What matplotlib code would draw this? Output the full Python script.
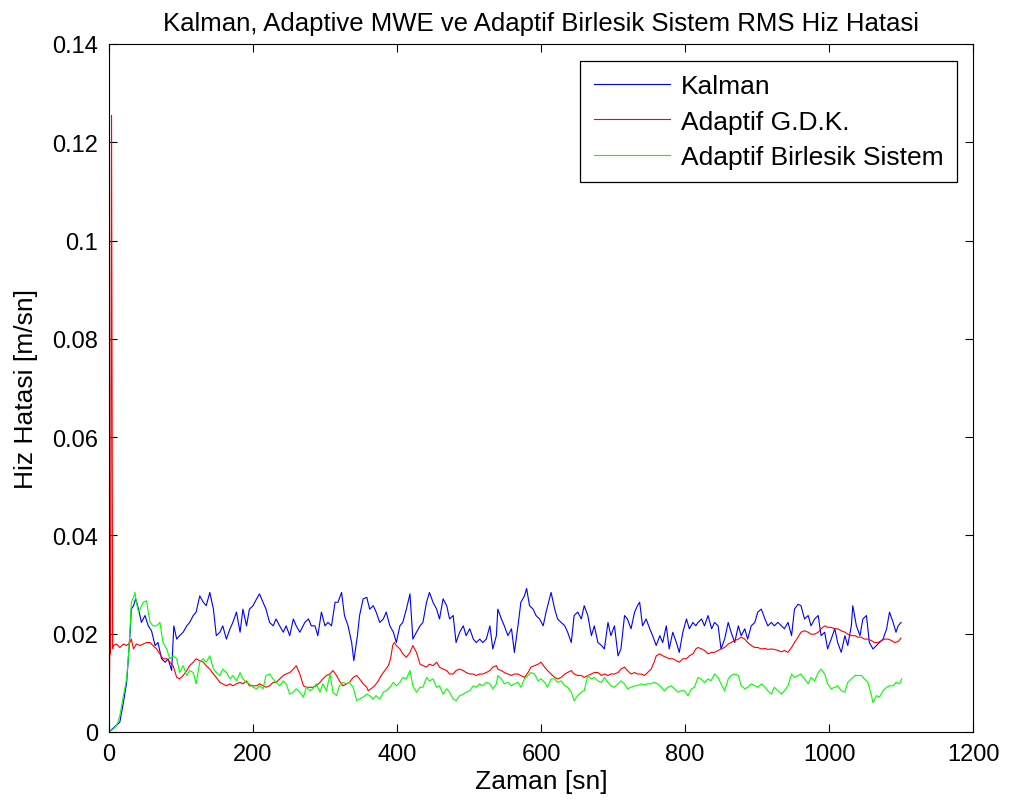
import matplotlib
matplotlib.use("Agg")
import matplotlib.pyplot as plt
from matplotlib.ticker import FuncFormatter

plt.rcParams['font.family'] = ['Liberation Sans', 'DejaVu Sans']

# hiz hatalari, mm/sn cinsinden okundu (grafikten)
t_kalman = [0, 15, 20, 24.5, 29, 31, 34, 37, 41, 45, 50, 54.5, 59, 64, 68, 73, 78, 82, 87, 90,
            94, 98, 103, 108, 112, 117, 121, 126, 131, 135, 140, 145, 149, 154, 158, 163, 168, 172,
            177, 182, 186, 191, 195, 200, 205, 209, 214, 218, 223, 228, 232, 237, 242, 246, 251, 256,
            260, 265, 272, 277, 281, 286, 290, 295, 300, 304, 309, 314, 318, 323, 327, 332, 337, 340,
            345, 348, 353, 358, 362, 367, 371, 376, 381, 385, 390, 395, 399, 404, 408, 413, 418, 422,
            427, 432, 436, 441, 445, 450, 455, 459, 464, 469, 473, 478, 482, 487, 492, 496, 501, 506,
            510, 515, 519, 524, 529, 533, 538, 540, 545, 549, 554, 559, 563, 568, 572, 577, 580, 584,
            589, 593, 598, 603, 607, 614, 619, 623, 628, 633, 637, 642, 646, 651, 656, 660, 665, 670,
            674, 679, 684, 688, 693, 697, 702, 707, 711, 716, 720, 725, 730, 734, 737, 741, 746, 751,
            755, 760, 765, 769, 774, 778, 783, 788, 792, 797, 802, 806, 811, 815, 818, 823, 827, 832,
            837, 841, 846, 850, 855, 860, 864, 869, 874, 878, 883, 887, 892, 897, 901, 906, 911, 915,
            920, 924, 929, 934, 938, 943, 948, 952, 957, 961, 966, 971, 975, 980, 985, 989, 994, 998,
            1003, 1008, 1012, 1017, 1022, 1026, 1031, 1033, 1038, 1043, 1047, 1052, 1056, 1061, 1066,
            1070, 1075, 1080, 1084, 1089, 1093, 1096, 1100]
kalman = [0, 2.0, 6.0, 10.1, 19.6, 25.0, 25.7, 27.1, 25.0, 22.3, 23.7, 21.6, 20.6, 17.6, 18.2, 14.9,
          14.2, 14.9, 12.5, 21.6, 18.9, 19.6, 20.3, 21.6, 22.3, 23.7, 24.4, 27.7, 26.4, 25.7, 28.4,
          25.0, 19.6, 20.3, 21.6, 18.9, 21.0, 22.3, 24.4, 20.3, 25.0, 21.6, 25.0, 25.7, 27.1, 28.1,
          26.4, 25.0, 22.3, 21.6, 23.0, 21.6, 20.3, 21.6, 19.6, 23.0, 21.6, 20.3, 22.3, 23.0, 21.6,
          21.6, 19.6, 24.4, 21.6, 22.3, 21.6, 26.4, 26.4, 28.4, 23.7, 21.6, 18.2, 14.5, 19.6, 23.7,
          27.1, 27.4, 25.0, 25.7, 24.4, 22.3, 23.0, 24.4, 21.6, 20.3, 18.2, 21.6, 22.3, 25.0, 28.1,
          18.9, 20.3, 21.6, 22.3, 26.4, 28.4, 26.4, 25.0, 23.0, 27.1, 25.7, 23.0, 23.7, 18.2, 20.3,
          21.6, 19.6, 21.0, 18.9, 18.2, 18.9, 18.2, 18.9, 21.6, 16.9, 19.6, 25.0, 23.0, 21.6, 19.6,
          21.0, 16.2, 21.6, 26.4, 27.7, 29.2, 25.7, 25.0, 23.7, 23.0, 21.6, 24.4, 28.4, 25.0, 23.0,
          22.3, 21.6, 20.3, 18.2, 23.7, 24.4, 23.0, 25.7, 23.7, 19.6, 21.6, 18.2, 17.6, 16.9, 22.3,
          19.6, 21.6, 15.5, 16.9, 23.7, 23.0, 21.0, 24.4, 25.7, 26.4, 21.6, 23.0, 21.0, 19.6, 17.6,
          19.6, 18.2, 21.6, 16.9, 20.3, 18.2, 16.2, 20.3, 23.0, 21.0, 22.3, 21.6, 22.3, 23.0, 21.6,
          23.7, 21.0, 22.3, 21.6, 16.9, 18.9, 22.3, 20.3, 18.2, 21.6, 19.6, 21.0, 18.9, 21.6, 22.3,
          24.4, 25.0, 23.0, 21.6, 22.3, 21.6, 22.3, 21.6, 21.0, 22.3, 19.6, 25.0, 26.0, 25.7, 23.0,
          23.7, 21.6, 23.0, 23.7, 19.6, 20.3, 16.9, 18.9, 21.0, 18.2, 16.2, 19.6, 17.6, 21.6, 25.7,
          21.6, 19.6, 23.0, 23.7, 18.2, 16.9, 17.6, 18.2, 18.9, 21.0, 24.4, 22.3, 20.3, 21.6, 22.3]

t_gdk = [0, 1, 2, 3.5, 5, 6, 10.6, 15, 20, 24.5, 29, 31, 34, 38, 43, 47.6, 52, 57, 61, 66, 70.6,
         75, 80, 84.5, 89, 94, 98, 103, 108, 112, 117, 121, 126, 131, 135, 140, 145, 149, 154, 158,
         163, 168, 172, 177, 182, 186, 191, 195, 200, 205, 209, 214, 218, 223, 228, 232, 237, 242,
         246, 251, 256, 260, 265, 270, 274, 283, 288, 293, 297, 302, 307, 311, 316, 320, 325, 330,
         334, 339, 344, 348, 353, 358, 360, 364, 369, 374, 378, 383, 388, 391, 394, 396, 399, 404,
         408, 413, 418, 422, 427, 432, 436, 441, 445, 450, 455, 459, 464, 469, 473, 478, 482, 487,
         492, 496, 501, 506, 510, 515, 519, 524, 529, 533, 538, 540, 545, 549, 554, 559, 563, 568,
         572, 577, 582, 586, 591, 596, 600, 605, 609, 614, 619, 623, 628, 633, 637, 642, 646, 651,
         656, 660, 665, 670, 674, 679, 684, 688, 693, 697, 702, 707, 711, 716, 720, 725, 730, 734,
         739, 744, 748, 753, 757, 760, 765, 769, 774, 778, 783, 788, 792, 797, 802, 806, 811, 815,
         818, 823, 827, 832, 837, 841, 846, 850, 855, 860, 864, 869, 874, 878, 883, 887, 892, 897,
         901, 906, 911, 915, 920, 924, 929, 934, 938, 943, 948, 952, 957, 961, 966, 971, 975, 980,
         985, 989, 994, 998, 1003, 1008, 1012, 1017, 1022, 1026, 1031, 1036, 1040, 1045, 1049, 1054,
         1059, 1063, 1068, 1073, 1077, 1082, 1087, 1091, 1096, 1100]
gdk = [0, 15.5, 16.0, 125.5, 17.0, 17.6, 17.9, 17.2, 17.9, 17.6, 18.2, 18.9, 16.9, 17.9, 17.6, 17.9,
       18.2, 18.2, 17.6, 16.9, 15.9, 14.9, 14.9, 14.2, 13.5, 11.1, 10.8, 11.5, 12.5, 13.5, 14.2, 14.9,
       14.5, 14.2, 13.5, 12.8, 11.8, 11.1, 10.1, 9.8, 9.4, 9.8, 9.4, 9.8, 10.1, 9.8, 10.4, 9.4, 9.4,
       9.4, 9.8, 9.4, 9.1, 9.4, 10.1, 10.1, 10.8, 11.5, 11.8, 12.1, 12.8, 13.5, 11.8, 9.4, 9.1, 9.1,
       9.4, 10.1, 10.8, 11.5, 11.8, 12.5, 11.5, 10.4, 9.4, 9.8, 10.1, 11.1, 11.5, 10.8, 9.8, 9.1, 8.4,
       8.8, 9.4, 10.4, 11.5, 12.5, 13.5, 14.9, 17.6, 18.2, 17.6, 16.9, 15.9, 15.2, 16.2, 17.6, 16.2,
       13.8, 13.5, 13.2, 13.8, 13.5, 14.2, 13.2, 12.8, 12.5, 11.8, 11.8, 12.5, 12.8, 12.5, 12.1, 11.8,
       11.8, 11.5, 11.8, 11.8, 12.1, 12.5, 13.2, 13.5, 12.8, 12.5, 12.1, 11.8, 11.5, 11.8, 11.8, 11.5,
       11.1, 12.1, 13.2, 13.5, 13.8, 14.2, 13.2, 12.5, 11.8, 11.1, 10.8, 11.1, 11.8, 12.1, 12.5, 11.8,
       11.5, 11.5, 11.1, 11.5, 11.8, 12.1, 12.1, 11.5, 11.8, 11.5, 11.8, 11.8, 12.1, 12.8, 13.2, 12.5,
       11.8, 12.1, 11.8, 11.8, 11.5, 12.1, 12.8, 14.2, 15.5, 15.9, 15.5, 15.2, 14.9, 14.9, 14.5, 14.2,
       14.9, 14.9, 15.5, 15.9, 16.9, 17.2, 16.9, 16.6, 15.9, 16.2, 16.2, 16.6, 16.9, 17.2, 17.9, 18.2,
       18.6, 18.9, 19.3, 18.9, 18.2, 17.6, 17.2, 17.2, 16.9, 17.0, 16.8, 16.9, 16.8, 16.6, 16.3, 16.6,
       16.2, 17.2, 18.2, 19.3, 20.3, 20.6, 20.3, 19.9, 19.9, 20.3, 21.0, 21.6, 21.3, 21.3, 21.0, 21.0,
       20.6, 20.3, 19.9, 19.6, 19.6, 19.3, 19.3, 18.9, 18.9, 18.6, 18.2, 18.2, 18.6, 18.9, 18.9, 18.6,
       18.2, 18.4, 19.1]

t_birlesik = [0, 6, 10.6, 15, 20, 24.5, 27, 29, 31, 34, 36, 38, 41, 43, 47.6, 52, 57, 61, 66, 70.6,
              75, 80, 84.5, 89, 94, 98, 103, 108, 112, 117, 121, 126, 131, 135, 140, 145, 149, 154,
              158, 163, 168, 172, 177, 182, 186, 191, 195, 200, 205, 209, 214, 218, 223, 228, 232,
              237, 242, 246, 251, 256, 260, 265, 270, 274, 279, 283, 288, 293, 297, 302, 307, 311,
              316, 320, 325, 330, 334, 339, 344, 348, 353, 358, 362, 367, 371, 376, 381, 385, 390,
              395, 399, 404, 408, 413, 418, 422, 427, 432, 436, 441, 445, 450, 455, 459, 464, 469,
              473, 478, 482, 487, 492, 496, 501, 506, 510, 515, 519, 524, 529, 533, 538, 540, 545,
              549, 554, 559, 563, 568, 572, 577, 582, 586, 591, 596, 600, 605, 609, 614, 619, 623,
              628, 633, 637, 642, 646, 651, 656, 660, 665, 670, 674, 679, 684, 688, 693, 697, 702,
              707, 711, 716, 720, 725, 730, 734, 739, 744, 748, 753, 757, 762, 767, 771, 776, 781,
              785, 790, 795, 799, 804, 809, 813, 818, 822, 827, 832, 836, 841, 846, 850, 855, 860,
              864, 869, 874, 878, 883, 887, 892, 897, 901, 906, 911, 915, 920, 924, 929, 934, 938,
              943, 948, 952, 957, 961, 966, 971, 975, 980, 985, 989, 994, 998, 1003, 1008, 1012,
              1017, 1022, 1026, 1031, 1036, 1040, 1045, 1049, 1054, 1059, 1061, 1066, 1070, 1075,
              1080, 1084, 1089, 1093, 1098, 1101]
birlesik = [0, 0.6, 1.3, 3.3, 7.4, 10.8, 15.5, 20.3, 26.4, 27.4, 28.4, 26.4, 24.4, 25.0, 26.4, 26.7,
            22.3, 21.6, 21.6, 22.3, 18.2, 16.9, 14.9, 15.5, 14.9, 12.1, 13.5, 11.5, 12.5, 12.1, 9.8,
            14.2, 14.9, 14.2, 15.5, 12.8, 12.1, 11.5, 12.8, 12.1, 10.8, 11.5, 10.4, 12.1, 10.8, 10.1,
            9.8, 9.1, 8.8, 9.4, 8.8, 11.5, 11.8, 10.8, 10.1, 9.4, 10.4, 9.8, 7.7, 8.1, 8.8, 8.1, 7.1,
            9.1, 8.4, 8.8, 9.8, 8.1, 9.8, 8.4, 11.8, 8.1, 7.4, 9.4, 10.1, 9.8, 10.1, 9.1, 6.4, 6.7,
            7.1, 7.7, 7.4, 6.7, 7.4, 6.7, 8.1, 8.4, 9.1, 10.1, 9.4, 10.1, 11.1, 10.8, 12.5, 9.4, 8.1,
            9.1, 9.1, 11.1, 10.4, 10.8, 9.1, 9.4, 7.7, 8.8, 8.1, 6.7, 6.4, 7.4, 7.7, 8.1, 8.4, 9.4,
            9.1, 9.8, 9.4, 10.1, 9.8, 8.8, 9.8, 11.5, 10.8, 9.8, 10.1, 9.4, 9.8, 10.1, 9.1, 10.8,
            11.5, 12.1, 11.8, 10.4, 10.8, 10.1, 9.1, 10.8, 10.8, 10.1, 10.4, 9.4, 9.1, 8.1, 6.4, 7.4,
            8.1, 8.4, 11.5, 10.8, 11.1, 10.4, 10.1, 11.1, 10.1, 9.4, 9.1, 9.8, 10.4, 9.8, 8.8, 9.1,
            9.4, 9.4, 9.8, 9.6, 9.8, 9.8, 10.1, 9.8, 9.1, 8.4, 9.1, 9.4, 8.8, 8.1, 8.4, 8.4, 7.4, 8.8,
            9.1, 11.1, 10.8, 10.1, 10.8, 10.4, 11.8, 11.1, 9.8, 8.4, 10.8, 11.5, 11.8, 11.5, 9.4, 8.8,
            9.1, 9.8, 9.4, 9.1, 9.8, 9.1, 8.4, 7.7, 9.1, 8.4, 7.7, 8.4, 9.4, 11.8, 11.1, 11.5, 11.8,
            10.8, 9.8, 11.1, 10.4, 12.1, 12.8, 11.8, 9.8, 8.8, 9.1, 9.4, 8.4, 8.1, 10.1, 10.8, 11.5,
            11.5, 11.5, 10.8, 10.1, 7.4, 6.0, 7.4, 7.1, 8.4, 9.1, 9.4, 9.4, 10.1, 9.8, 10.8]

x_ticks = [0, 200, 400, 600, 800, 1000, 1200]
y_ticks = [0, 0.02, 0.04, 0.06, 0.08, 0.1, 0.12, 0.14]

fig = plt.figure(figsize=(10.16, 8.12), dpi=100)
ax = fig.add_axes([0.1073, 0.0973, 0.8504, 0.8473])

ax.plot(t_kalman, [v / 1000 for v in kalman], color=(0, 0, 1), lw=0.8, label='Kalman')
ax.plot(t_gdk, [v / 1000 for v in gdk], color=(1, 0, 0), lw=0.8, label='Adaptif G.D.K.')
ax.plot(t_birlesik, [v / 1000 for v in birlesik], color=(0, 1, 0), lw=0.8,
        label='Adaptif Birlesik Sistem')

ax.set_xlim(0, 1200)
ax.set_ylim(0, 0.14)
ax.set_xticks(x_ticks)
ax.set_yticks(y_ticks)
ax.yaxis.set_major_formatter(FuncFormatter(lambda v, p: '%g' % round(v, 4)))
ax.tick_params(direction='in', top=True, right=True, length=6, width=0.8,
               labelsize=17, pad=8)
for s in ax.spines.values():
    s.set_linewidth(0.8)

ax.set_title('Kalman, Adaptive MWE ve Adaptif Birlesik Sistem RMS Hiz Hatasi',
             fontsize=18.5, pad=10)
ax.set_xlabel('Zaman [sn]', fontsize=19, labelpad=3)
ax.set_ylabel('Hiz Hatasi [m/sn]', fontsize=19, labelpad=10)

leg = ax.legend(loc='upper right', bbox_to_anchor=(0.9815, 0.9753), borderaxespad=0,
                fontsize=19, fancybox=False, edgecolor='black', framealpha=1,
                handlelength=2.9, handletextpad=0.42, labelspacing=0.43, borderpad=0.5)
leg.get_frame().set_linewidth(0.9)

fig.savefig('out.png', dpi=100)
